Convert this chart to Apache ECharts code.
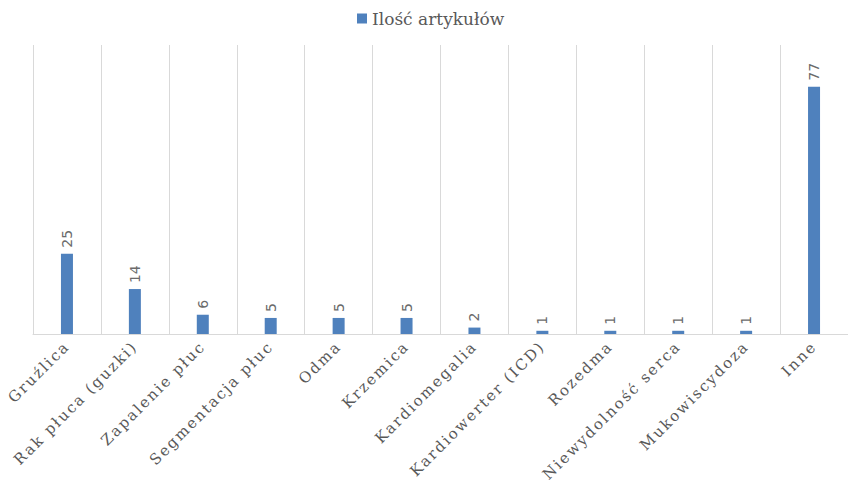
<!DOCTYPE html>
<html>
<head>
<meta charset="utf-8">
<script src="https://cdn.jsdelivr.net/npm/echarts@6/dist/echarts.min.js"></script>
<style>
  html, body { margin: 0; padding: 0; background: #ffffff; }
  #chart { width: 848px; height: 489px; }
  /* spaced-out category labels */
  #chart text[style*="serif"] { letter-spacing: 2px; }
</style>
</head>
<body>
<div id="chart"></div>
<script>
// Categories and article counts
const categories = [
  'Gruźlica', 'Rak płuca (guzki)', 'Zapalenie płuc', 'Segmentacja płuc',
  'Odma', 'Krzemica', 'Kardiomegalia', 'Kardiowerter (ICD)',
  'Rozedma', 'Niewydolność serca', 'Mukowiscydoza', 'Inne'
];
const articleCounts = [25, 14, 6, 5, 5, 5, 2, 1, 1, 1, 1, 77];
const seriesName = 'Ilość artykułów';

const chart = echarts.init(document.getElementById('chart'), null, { renderer: 'svg' });
chart.setOption({
  animation: false,
  backgroundColor: '#ffffff',
  legend: {
    data: [seriesName],
    top: 5,
    left: 352,
    itemWidth: 10,
    itemHeight: 10,
    icon: 'rect',
    itemGap: 8,
    textStyle: { fontFamily: 'DejaVu Serif', fontSize: 17, color: '#595959' }
  },
  grid: { left: 33, top: 45, width: 820, bottom: 155, containLabel: false },
  xAxis: {
    type: 'category',
    data: categories,
    axisLine: { lineStyle: { color: '#d9d9d9', width: 1 } },
    axisTick: { show: false },
    splitLine: { show: true, lineStyle: { color: '#d9d9d9', width: 1 } },
    axisLabel: {
      rotate: 45,
      interval: 0,
      margin: 10,
      color: '#595959',
      fontFamily: 'DejaVu Serif, serif',
      fontSize: 15
    }
  },
  yAxis: {
    type: 'value',
    min: 0,
    max: 90,
    show: false,
    splitLine: { show: false }
  },
  series: [{
    name: seriesName,
    type: 'bar',
    data: articleCounts,
    barWidth: 12,
    itemStyle: { color: '#4f81bd' },
    label: {
      show: true,
      position: 'top',
      rotate: 90,
      align: 'left',
      verticalAlign: 'middle',
      distance: 6,
      color: '#6b6b6b',
      fontFamily: 'DejaVu Sans',
      fontSize: 14
    }
  }]
});
</script>
</body>
</html>
